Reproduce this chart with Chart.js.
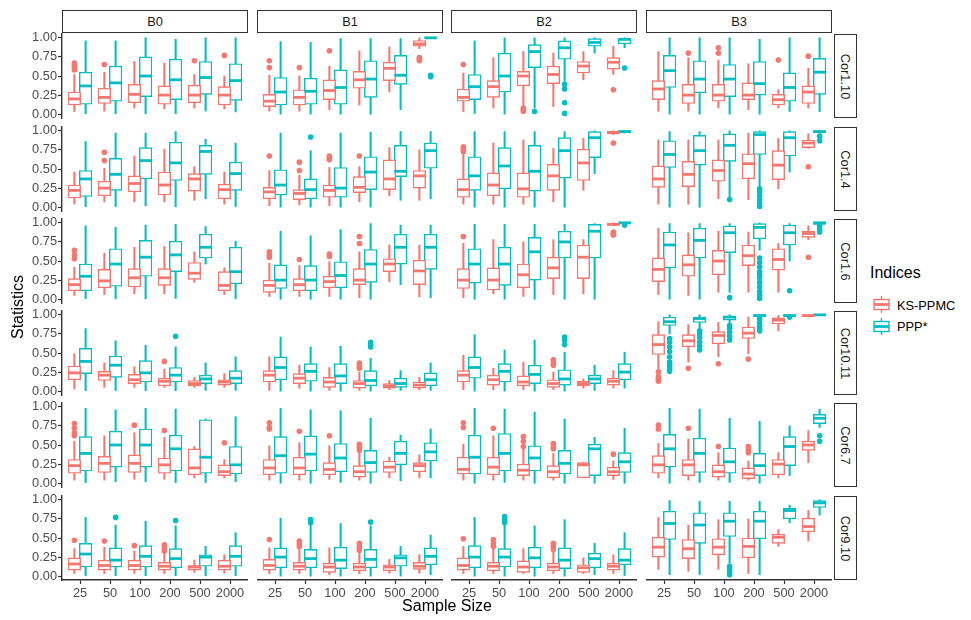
<!DOCTYPE html>
<html>
<head>
<meta charset="utf-8">
<script src="https://cdn.jsdelivr.net/npm/chart.js@4.4.0/dist/chart.umd.min.js"></script>
<style>
  body { margin: 0; background: #fff; font-family: "Liberation Sans", Arial, sans-serif; }
  #wrap { position: relative; width: 971px; height: 620px; overflow: hidden; }
  #wrap canvas { position: absolute; }
  .strip { position: absolute; box-sizing: border-box; border: 1.5px solid #333; background: #fff;
           color: #1a1a1a; font-size: 12.8px; display: flex; align-items: center; justify-content: center; }
  .strip.side span { transform: rotate(90deg); white-space: nowrap; }
  .title { position: absolute; font-size: 16px; color: #000; white-space: nowrap; }
  .leg { position: absolute; font-size: 12.8px; color: #000; }
</style>
</head>
<body>
<div id="wrap"></div>
<script>
const sampleSizes = ['25', '50', '100', '200', '500', '2000'];
const colFacets = ['B0', 'B1', 'B2', 'B3'];
const rowFacets = ['Cor1.10', 'Cor1.4', 'Cor1.6', 'Cor10.11', 'Cor6.7', 'Cor9.10'];
const yTicks = [0, 0.25, 0.5, 0.75, 1];
const indices = ['KS-PPMC', 'PPP*'];

// one box: [lower whisker, q1, median, q3, upper whisker, ...outliers]
// each row array holds B0..B3, each with the six sample sizes
const ksCor1_10 = [
  [[0.035,0.12,0.20,0.29,0.52,0.58,0.61,0.64,0.67],[0.04,0.14,0.22,0.34,0.55,0.65],[0.08,0.15,0.26,0.39,0.69],[0.07,0.13,0.25,0.37,0.67],[0.08,0.15,0.25,0.38,0.52,0.70],[0.07,0.12,0.25,0.36,0.50,0.77]],
  [[0.04,0.10,0.17,0.26,0.51,0.61,0.70],[0.04,0.12,0.22,0.32,0.50,0.61],[0.06,0.19,0.31,0.45,0.63,0.83],[0.12,0.34,0.45,0.56,0.83],[0.29,0.44,0.60,0.68,0.88],[0.86,0.89,0.92,0.965,1.0,0.70,0.72,0.74]],
  [[0.035,0.17,0.22,0.33,0.54,0.65],[0.08,0.22,0.36,0.44,0.74],[0.10,0.37,0.50,0.56,0.82,0.04,0.06,0.08],[0.10,0.40,0.52,0.63,0.80],[0.45,0.54,0.63,0.69,0.82],[0.52,0.59,0.68,0.74,0.89,0.32]],
  [[0.04,0.19,0.33,0.44,0.82],[0.04,0.14,0.25,0.39,0.74,0.80],[0.08,0.17,0.25,0.39,0.71,0.80,0.87],[0.06,0.19,0.25,0.41,0.66],[0.08,0.12,0.19,0.26,0.32,0.71],[0.08,0.14,0.29,0.37,0.60,0.76]]
];
const pppCor1_10 = [
  [[0,0.13,0.37,0.55,0.96],[0,0.17,0.41,0.63,0.96],[0,0.23,0.50,0.75,1.0],[0,0.19,0.45,0.72,0.98],[0.04,0.26,0.48,0.69,1.0],[0.03,0.18,0.44,0.66,1.0]],
  [[0,0.12,0.29,0.48,0.95],[0,0.13,0.30,0.47,0.94],[0,0.13,0.35,0.58,0.99],[0,0.22,0.46,0.70,0.99],[0.06,0.39,0.51,0.77,0.99],[1,1,1,1,1,0.49,0.51]],
  [[0.01,0.19,0.36,0.52,0.96],[0,0.29,0.50,0.80,1.0],[0.08,0.61,0.82,0.91,1.0,0.035],[0.43,0.72,0.87,0.96,1.0,0.39,0.33,0.15,0.01],[0.80,0.89,0.94,0.99,1.0],[0.87,0.92,0.98,0.99,1.0,0.605]],
  [[0,0.35,0.57,0.77,1.0],[0,0.28,0.46,0.70,1.0],[0,0.23,0.46,0.65,1.0],[0,0.25,0.40,0.69,0.98],[0.035,0.17,0.35,0.54,1.0],[0.035,0.26,0.55,0.73,1.0]]
];
const ksCor1_4 = [
  [[0.04,0.12,0.22,0.29,0.46],[0.07,0.15,0.25,0.34,0.51,0.61,0.72],[0.07,0.20,0.31,0.41,0.67],[0.07,0.16,0.29,0.46,0.76],[0.09,0.21,0.37,0.44,0.53],[0.04,0.11,0.23,0.30,0.46]],
  [[0.02,0.11,0.20,0.26,0.48,0.67],[0.03,0.10,0.18,0.23,0.42,0.48,0.59],[0.02,0.13,0.22,0.29,0.52,0.62,0.64,0.67],[0.07,0.19,0.26,0.40,0.53,0.67],[0.15,0.23,0.37,0.62,0.78],[0.09,0.25,0.41,0.48,0.75]],
  [[0.04,0.13,0.23,0.37,0.70,0.73,0.76,0.79],[0.04,0.15,0.29,0.45,0.84],[0.04,0.13,0.24,0.45,0.88],[0.07,0.22,0.41,0.56,0.77],[0.22,0.35,0.58,0.76,0.90],[0.95,0.96,0.98,0.99,1.0,0.84]],
  [[0.04,0.26,0.37,0.54,0.88],[0.04,0.27,0.43,0.60,0.88],[0.11,0.34,0.48,0.62,0.88],[0.10,0.37,0.57,0.70,0.97],[0.24,0.36,0.55,0.74,0.90],[0.77,0.78,0.84,0.88,0.96,0.53]]
];
const pppCor1_4 = [
  [[0,0.14,0.37,0.48,0.86],[0,0.22,0.43,0.64,0.97],[0.02,0.37,0.61,0.78,0.97],[0,0.35,0.58,0.85,0.99],[0.11,0.43,0.73,0.81,0.89],[0,0.22,0.44,0.59,0.84]],
  [[0,0.16,0.29,0.49,0.97],[0,0.11,0.23,0.37,0.74,0.92],[0,0.13,0.25,0.52,0.97],[0,0.23,0.46,0.66,0.98],[0.09,0.40,0.47,0.81,0.99],[0.11,0.51,0.74,0.84,0.99]],
  [[0,0.22,0.41,0.66,0.99],[0,0.24,0.54,0.78,0.99],[0,0.21,0.47,0.81,0.99],[0,0.38,0.74,0.91,0.99],[0.44,0.65,0.91,0.99,1.0],[0.97,0.98,0.99,1.0,1.0]],
  [[0,0.52,0.69,0.87,0.99],[0,0.55,0.74,0.94,0.99],[0.13,0.60,0.81,0.96,1.0,0.10],[0.26,0.69,0.95,0.99,1.0,0.24,0.20,0.15,0.10,0.05,0.01],[0.46,0.67,0.91,0.99,1.0],[0.97,0.98,0.99,1.0,1.0,0.93,0.87]]
];
const ksCor1_6 = [
  [[0.05,0.11,0.19,0.27,0.42,0.53,0.58,0.64],[0.06,0.15,0.24,0.39,0.60],[0.07,0.16,0.28,0.40,0.68],[0.07,0.18,0.28,0.40,0.69],[0.22,0.26,0.34,0.48,0.62],[0.06,0.11,0.18,0.36,0.41]],
  [[0.035,0.09,0.18,0.25,0.47,0.55,0.58,0.62],[0.035,0.11,0.19,0.27,0.44,0.52],[0.035,0.15,0.23,0.30,0.49,0.56,0.59],[0.02,0.19,0.25,0.40,0.62,0.73,0.82],[0.23,0.36,0.46,0.53,0.71],[0.03,0.19,0.37,0.51,0.71]],
  [[0.02,0.14,0.25,0.40,0.73,0.82],[0.07,0.12,0.25,0.41,0.78],[0.035,0.15,0.32,0.46,0.75],[0.06,0.27,0.41,0.55,0.78],[0.07,0.27,0.55,0.71,0.78],[0.96,0.97,0.98,0.99,1.0,0.84,0.86,0.88]],
  [[0.06,0.23,0.39,0.54,0.93],[0.05,0.30,0.45,0.58,0.87],[0.09,0.32,0.50,0.64,0.89],[0.09,0.44,0.57,0.71,0.88],[0.09,0.38,0.52,0.66,0.73],[0.78,0.81,0.86,0.89,0.96,0.55]]
];
const pppCor1_6 = [
  [[0,0.11,0.30,0.46,0.96],[0,0.17,0.46,0.66,0.94],[0,0.30,0.55,0.77,0.97],[0.01,0.36,0.58,0.76,0.98],[0.46,0.54,0.68,0.85,0.95],[0,0.20,0.36,0.68,0.76]],
  [[0,0.14,0.25,0.45,0.89],[0,0.11,0.25,0.44,0.83],[0,0.15,0.31,0.49,0.91],[0,0.22,0.46,0.65,0.99],[0.19,0.46,0.68,0.85,0.97],[0.02,0.39,0.68,0.85,0.97]],
  [[0,0.21,0.46,0.66,0.98],[0,0.18,0.46,0.68,0.98],[0,0.25,0.62,0.81,0.98],[0,0.54,0.75,0.89,0.98],[0,0.54,0.89,0.98,0.99],[0.98,0.99,1.0,1.0,1.0,0.97]],
  [[0,0.41,0.71,0.88,0.99],[0,0.54,0.77,0.93,0.99],[0.09,0.61,0.87,0.96,0.99,0.02],[0.64,0.79,0.94,0.99,1.0,0.54,0.48,0.42,0.36,0.32,0.28,0.22,0.16,0.10,0.05,0.01],[0.50,0.71,0.87,0.97,0.99,0.11],[0.98,0.98,1.0,1.0,1.0,0.96,0.92,0.88]]
];
const ksCor10_11 = [
  [[0.03,0.15,0.24,0.33,0.49],[0.05,0.14,0.21,0.26,0.37],[0.05,0.10,0.15,0.22,0.32],[0.05,0.07,0.13,0.17,0.29,0.39],[0.05,0.07,0.10,0.14,0.18],[0.05,0.08,0.12,0.15,0.23]],
  [[0.01,0.12,0.21,0.27,0.45],[0.04,0.10,0.17,0.23,0.34],[0.01,0.05,0.12,0.18,0.31],[0.01,0.04,0.10,0.14,0.25,0.30,0.33,0.37],[0.02,0.04,0.07,0.10,0.14],[0.02,0.04,0.08,0.12,0.18]],
  [[0.02,0.12,0.21,0.27,0.47],[0.02,0.08,0.15,0.21,0.30],[0.02,0.07,0.12,0.20,0.38],[0.02,0.05,0.10,0.15,0.25,0.34,0.37,0.41],[0.04,0.07,0.10,0.13,0.16],[0.04,0.08,0.13,0.17,0.27]],
  [[0.18,0.48,0.61,0.74,0.91,0.13,0.16,0.19,0.25],[0.38,0.58,0.66,0.74,0.87,0.30],[0.45,0.62,0.73,0.78,0.90,0.36],[0.49,0.69,0.76,0.84,0.97,0.42],[0.79,0.88,0.93,0.96,0.99],[0.98,0.98,0.99,1.0,1.0]]
];
const pppCor10_11 = [
  [[0,0.23,0.39,0.56,0.82],[0,0.18,0.34,0.46,0.66],[0,0.12,0.24,0.40,0.60],[0,0.12,0.21,0.31,0.58,0.72],[0.01,0.10,0.16,0.21,0.37],[0.01,0.10,0.17,0.27,0.45]],
  [[0,0.15,0.31,0.45,0.71],[0,0.13,0.26,0.36,0.58],[0,0.10,0.20,0.36,0.59],[0,0.07,0.14,0.27,0.43,0.58,0.61,0.64],[0.01,0.05,0.10,0.17,0.27],[0.01,0.07,0.15,0.24,0.37]],
  [[0,0.17,0.31,0.45,0.74],[0,0.12,0.26,0.36,0.54],[0,0.10,0.22,0.34,0.67],[0,0.08,0.16,0.28,0.51,0.61,0.67,0.71],[0.01,0.10,0.16,0.21,0.34],[0.04,0.15,0.25,0.36,0.51]],
  [[0.75,0.86,0.91,0.97,1.0,0.26,0.30,0.34,0.38,0.45,0.52,0.58,0.64,0.69],[0.83,0.90,0.95,0.97,1.0,0.54,0.59,0.64,0.70,0.75,0.79],[0.88,0.93,0.97,0.98,1.0,0.67,0.72,0.77,0.82,0.86],[0.97,0.98,0.99,1.0,1.0,0.79,0.82,0.86,0.90,0.95],[0.98,0.99,0.99,1.0,1.0,0.97],[1,1,1,1,1]]
];
const ksCor6_7 = [
  [[0.04,0.13,0.23,0.31,0.55,0.62,0.66,0.72,0.78],[0.04,0.14,0.26,0.35,0.62],[0.05,0.14,0.26,0.37,0.66,0.76],[0.05,0.13,0.24,0.33,0.60,0.69],[0.07,0.11,0.20,0.45,0.48],[0.07,0.10,0.15,0.24,0.31,0.53]],
  [[0.04,0.11,0.20,0.31,0.49,0.71,0.73,0.79],[0.04,0.11,0.20,0.34,0.53,0.68],[0.05,0.11,0.18,0.27,0.49,0.62],[0.04,0.08,0.15,0.23,0.40,0.43,0.47,0.51],[0.07,0.14,0.21,0.29,0.34],[0.07,0.15,0.23,0.27,0.37]],
  [[0.04,0.12,0.18,0.34,0.51,0.73,0.79],[0.04,0.11,0.21,0.34,0.62,0.72],[0.04,0.10,0.17,0.25,0.45,0.48,0.55,0.61],[0.04,0.07,0.15,0.23,0.39,0.45,0.48,0.52],[0.07,0.07,0.24,0.27,0.27],[0.05,0.10,0.15,0.21,0.29,0.38]],
  [[0.07,0.13,0.24,0.36,0.52,0.71,0.76],[0.04,0.10,0.24,0.31,0.58,0.72],[0.04,0.08,0.15,0.24,0.40,0.48],[0.04,0.06,0.12,0.20,0.29,0.40,0.44,0.48],[0.07,0.11,0.25,0.31,0.40],[0.27,0.43,0.50,0.55,0.69]]
];
const pppCor6_7 = [
  [[0,0.16,0.39,0.61,0.98],[0.02,0.21,0.50,0.68,0.96],[0.02,0.21,0.50,0.71,0.98],[0,0.16,0.45,0.63,0.97],[0,0.13,0.34,0.83,0.84],[0.02,0.12,0.24,0.48,0.87]],
  [[0,0.13,0.36,0.61,0.98],[0,0.16,0.38,0.62,0.96],[0.01,0.15,0.33,0.52,0.95],[0,0.14,0.27,0.43,0.85],[0.03,0.24,0.39,0.55,0.63],[0.07,0.29,0.41,0.53,0.71]],
  [[0,0.12,0.34,0.63,0.98],[0.01,0.16,0.39,0.65,0.97],[0,0.16,0.33,0.49,0.93],[0,0.12,0.26,0.43,0.84],[0,0.10,0.45,0.51,0.60],[0,0.14,0.28,0.40,0.72]],
  [[0,0.21,0.45,0.64,0.98],[0.01,0.14,0.39,0.59,0.97],[0.01,0.13,0.28,0.46,0.85],[0,0.10,0.23,0.39,0.81],[0.10,0.23,0.48,0.61,0.75],[0.73,0.78,0.85,0.90,0.97,0.55,0.62]]
];
const ksCor9_10 = [
  [[0.035,0.08,0.16,0.24,0.36,0.47],[0.035,0.08,0.14,0.21,0.38,0.46],[0.035,0.08,0.14,0.21,0.33,0.40],[0.035,0.08,0.13,0.18,0.30,0.33,0.37,0.41],[0.05,0.08,0.12,0.14,0.21],[0.04,0.08,0.13,0.21,0.28]],
  [[0.035,0.08,0.14,0.22,0.37,0.48],[0.035,0.08,0.13,0.18,0.35,0.39,0.42,0.46],[0.02,0.05,0.12,0.17,0.37],[0.035,0.07,0.12,0.17,0.33,0.34,0.36,0.39,0.43],[0.04,0.07,0.12,0.15,0.22],[0.04,0.09,0.13,0.18,0.28]],
  [[0.035,0.08,0.14,0.24,0.39,0.49],[0.035,0.07,0.13,0.18,0.37,0.39,0.43,0.48],[0.035,0.05,0.12,0.20,0.36],[0.035,0.07,0.12,0.17,0.33,0.35,0.39,0.43],[0.035,0.05,0.11,0.15,0.24],[0.035,0.08,0.13,0.17,0.28]],
  [[0.09,0.25,0.38,0.51,0.77],[0.065,0.23,0.36,0.48,0.67],[0.09,0.28,0.38,0.49,0.74],[0.035,0.24,0.39,0.50,0.75],[0.39,0.43,0.51,0.55,0.61],[0.46,0.58,0.65,0.76,0.86]]
];
const pppCor9_10 = [
  [[0,0.12,0.29,0.43,0.77],[0,0.12,0.21,0.37,0.67,0.77],[0,0.12,0.26,0.40,0.72],[0,0.11,0.23,0.36,0.66,0.73],[0,0.13,0.25,0.28,0.39],[0,0.13,0.26,0.40,0.57]],
  [[0,0.11,0.25,0.37,0.76],[0,0.11,0.23,0.35,0.67,0.70,0.74],[0,0.10,0.21,0.38,0.69],[0,0.11,0.22,0.35,0.66,0.71],[0,0.13,0.24,0.28,0.39],[0.02,0.15,0.26,0.37,0.54]],
  [[0,0.11,0.25,0.40,0.77],[0,0.12,0.25,0.36,0.67,0.70,0.74,0.78],[0,0.11,0.24,0.38,0.66],[0,0.10,0.21,0.37,0.74],[0.02,0.11,0.23,0.30,0.43],[0.01,0.15,0.21,0.36,0.57]],
  [[0.02,0.48,0.69,0.85,0.99],[0.02,0.43,0.67,0.83,0.98],[0.17,0.52,0.72,0.83,0.98,0.02,0.05,0.09,0.13],[0.02,0.49,0.72,0.85,0.98],[0.70,0.75,0.86,0.89,0.93],[0.80,0.90,0.96,0.99,1.0]]
];

const ksRows = [ksCor1_10, ksCor1_4, ksCor1_6, ksCor10_11, ksCor6_7, ksCor9_10];
const pppRows = [pppCor1_10, pppCor1_4, pppCor1_6, pppCor10_11, pppCor6_7, pppCor9_10];

const RED = '#F8766D', TEAL = '#00BFC4';
const FONT = "'Liberation Sans', Arial, sans-serif";
const colLeft = [62, 257, 451, 646];
const rowTop = [34, 127, 219, 311, 403, 496];
const PANEL_W = 186, PANEL_H = 84;
const Y_AXIS_W = 44, X_AXIS_H = 24, LABEL_PAD = 8;
const DODGE = 0.1875;

Chart.defaults.font.family = FONT;

const wrap = document.getElementById('wrap');

function boxDatasets(boxes, color, shift) {
  const xs = boxes.map((b, i) => i + shift);
  return [
    { type: 'bar', order: 4, grouped: false, barThickness: 1.4, borderWidth: 0, backgroundColor: color,
      data: boxes.map((b, i) => ({ x: xs[i], y: [b[0], b[4]] })) },
    { type: 'bar', order: 3, grouped: false, barThickness: 12.6, borderWidth: 1.4, borderSkipped: false,
      borderColor: color, backgroundColor: '#fff',
      data: boxes.map((b, i) => ({ x: xs[i], y: [b[1], b[3]] })) },
    { type: 'scatter', order: 2, pointStyle: 'line', pointRadius: 6.3, pointBorderWidth: 2.8,
      pointBorderColor: color, borderColor: color, clip: false,
      data: boxes.map((b, i) => ({ x: xs[i], y: b[2] })) },
    { type: 'scatter', order: 1, pointStyle: 'circle', pointRadius: 2.8, pointBorderWidth: 0,
      pointBackgroundColor: color, backgroundColor: color, clip: false,
      data: boxes.flatMap((b, i) => b.slice(5).map(v => ({ x: xs[i], y: v }))) }
  ];
}

function axisStyle(shown) {
  return {
    grid: { display: shown, drawOnChartArea: false, drawTicks: shown, tickLength: 4, tickColor: '#333', tickWidth: 1.2, offset: false },
    border: { display: shown, color: '#333', width: 1.4 }
  };
}

function makePanel(r, c) {
  const isLeft = c === 0, isBottom = r === rowFacets.length - 1;
  // left column canvases get room above/below so the 1.00 / 0.00 labels are not cut
  const padTop = isLeft ? LABEL_PAD : 0;
  const padBottom = isLeft && !isBottom ? LABEL_PAD : 0;
  const w = PANEL_W + (isLeft ? Y_AXIS_W : 0);
  const h = PANEL_H + padTop + padBottom + (isBottom ? X_AXIS_H : 0);
  const canvas = document.createElement('canvas');
  canvas.width = w; canvas.height = h;
  canvas.style.left = (colLeft[c] - (isLeft ? Y_AXIS_W : 0)) + 'px';
  canvas.style.top = (rowTop[r] - padTop) + 'px';
  canvas.style.width = w + 'px'; canvas.style.height = h + 'px';
  wrap.appendChild(canvas);

  new Chart(canvas, {
    type: 'bar',
    data: { datasets: [...boxDatasets(ksRows[r][c], RED, -DODGE), ...boxDatasets(pppRows[r][c], TEAL, DODGE)] },
    options: {
      responsive: false, animation: false, events: [],
      layout: { padding: { top: padTop, bottom: padBottom, left: 0, right: 0 }, autoPadding: false },
      plugins: { legend: { display: false }, tooltip: { enabled: false } },
      scales: {
        x: Object.assign({
          type: 'linear', min: -0.6, max: 5.6, offset: false, display: isBottom,
          afterBuildTicks: s => { s.ticks = sampleSizes.map((_, i) => ({ value: i })); },
          afterFit: s => {
            s.paddingLeft = 0; s.paddingRight = 0;
            if (isBottom) s.height = X_AXIS_H;
          },
          ticks: { display: isBottom, callback: (v, i) => sampleSizes[i], color: '#4d4d4d', font: { size: 12.8 },
                   padding: 2, maxRotation: 0, autoSkip: false }
        }, axisStyle(isBottom)),
        y: Object.assign({
          type: 'linear', min: -0.05, max: 1.05, display: isLeft, position: 'left',
          afterBuildTicks: s => { s.ticks = yTicks.map(v => ({ value: v })); },
          afterFit: s => {
            s.paddingTop = 0; s.paddingBottom = 0;
            if (isLeft) s.width = Y_AXIS_W;
          },
          ticks: { display: isLeft, callback: v => v.toFixed(2), color: '#4d4d4d', font: { size: 12.8 }, padding: 1 }
        }, axisStyle(isLeft))
      }
    }
  });
}

rowFacets.forEach((_, r) => colFacets.forEach((_, c) => makePanel(r, c)));

// facet strips
colFacets.forEach((name, c) => {
  const d = document.createElement('div');
  d.className = 'strip';
  d.style.cssText = `left:${colLeft[c]}px;top:10px;width:${PANEL_W}px;height:23px;`;
  d.textContent = name;
  wrap.appendChild(d);
});
rowFacets.forEach((name, r) => {
  const d = document.createElement('div');
  d.className = 'strip side';
  d.style.cssText = `left:834px;top:${rowTop[r]}px;width:23px;height:${PANEL_H}px;`;
  d.innerHTML = `<span>${name}</span>`;
  wrap.appendChild(d);
});

// axis titles
const yt = document.createElement('div');
yt.className = 'title';
yt.style.cssText = 'left:18px;top:307px;transform:translate(-50%,-50%) rotate(-90deg);';
yt.textContent = 'Statistics';
wrap.appendChild(yt);
const xt = document.createElement('div');
xt.className = 'title';
xt.style.cssText = 'left:447px;top:606px;transform:translate(-50%,-50%);';
xt.textContent = 'Sample Size';
wrap.appendChild(xt);

// legend
const lt = document.createElement('div');
lt.className = 'title';
lt.style.cssText = 'left:870px;top:264px;';
lt.textContent = 'Indices';
wrap.appendChild(lt);
[RED, TEAL].forEach((col, k) => {
  const top = 294 + k * 21.5;
  const key = document.createElement('div');
  key.style.cssText = `position:absolute;left:871px;top:${top}px;width:21px;height:21px;`;
  key.innerHTML = `<svg width="21" height="21"><g stroke="${col}" stroke-width="1.4" fill="#fff">
    <line x1="10.5" y1="2" x2="10.5" y2="19"/>
    <rect x="3" y="5.5" width="15" height="10"/>
    <line x1="3" y1="10.5" x2="18" y2="10.5" stroke-width="2.8"/></g></svg>`;
  wrap.appendChild(key);
  const lab = document.createElement('div');
  lab.className = 'leg';
  lab.style.cssText = `left:897px;top:${top + 10.5}px;transform:translateY(-50%);`;
  lab.textContent = indices[k];
  wrap.appendChild(lab);
});
</script>
</body>
</html>
